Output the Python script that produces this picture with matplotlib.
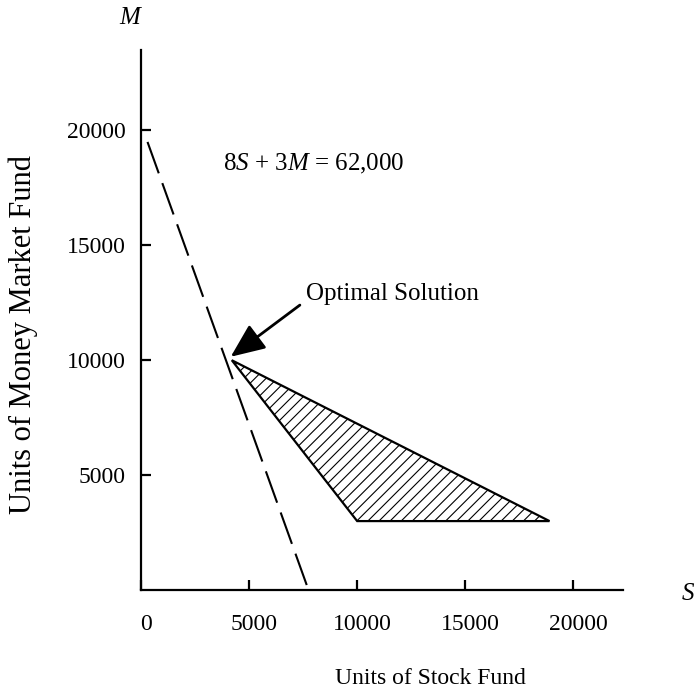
import matplotlib
matplotlib.use('Agg')
import matplotlib.pyplot as plt
from matplotlib.transforms import ScaledTranslation

plt.rcParams['font.family'] = 'Liberation Serif'
plt.rcParams['mathtext.fontset'] = 'custom'
plt.rcParams['mathtext.rm'] = 'Liberation Serif'
plt.rcParams['mathtext.it'] = 'Liberation Serif:italic'
plt.rcParams['hatch.linewidth'] = 0.8

# Feasible region corners (S, M)
region_s = [4200, 10000, 18900]
region_m = [10000, 3000, 3000]

# Objective line 8S + 3M = 62,000
obj_s = [300, 7750]
obj_m = [19500, 0]

# Optimal point (arrow tip) and arrow tail
opt_s, opt_m = 4150, 10150
tail_s, tail_m = 7350, 12400

x_ticks = [0, 5000, 10000, 15000, 20000]
y_ticks = [5000, 10000, 15000, 20000]

fig = plt.figure(figsize=(6.95, 6.90), dpi=100)
ax = fig.add_axes([0.2029, 0.1449, 0.6935, 0.7826])

# Feasible region with hatching
ax.fill(region_s, region_m, facecolor='white', edgecolor='black', hatch='///', linewidth=1.6)

# Objective function line
ax.plot(obj_s, obj_m, color='black', linestyle=(0, (16, 5)), linewidth=1.5)

# Axes look
ax.set_xlim(0, 22300)
ax.set_ylim(0, 23500)
ax.spines['top'].set_visible(False)
ax.spines['right'].set_visible(False)
ax.spines['left'].set_linewidth(1.6)
ax.spines['bottom'].set_linewidth(1.6)

ax.set_xticks(x_ticks)
ax.set_yticks(y_ticks)
ax.set_xticklabels([str(v) for v in x_ticks])
ax.set_yticklabels([str(v) for v in y_ticks])
ax.tick_params(axis='both', direction='in', length=7, width=1.6, labelsize=17)
ax.tick_params(axis='x', pad=17)
ax.tick_params(axis='y', pad=11)
ax.xaxis.set_ticks_position('bottom')
ax.yaxis.set_ticks_position('left')

# tick labels in the reference sit a bit right of the tick marks
for lab in ax.get_xticklabels():
    lab.set_transform(lab.get_transform() + ScaledTranslation(5 / 100, 0, fig.dpi_scale_trans))

# Equation label
ax.text(3790, 18530, r'8$\mathit{S}$ + 3$\mathit{M}$ = 62,000', fontsize=18, ha='left', va='center')

# Optimal solution arrow
ax.annotate('', xy=(opt_s, opt_m), xytext=(tail_s, tail_m),
            arrowprops=dict(arrowstyle='-|>,head_length=1.05,head_width=0.45',
                            mutation_scale=20, color='black', linewidth=2,
                            shrinkA=0, shrinkB=0))
ax.text(7630, 12900, 'Optimal Solution', fontsize=18, ha='left', va='center')

# Axis letters and labels
fig.text(130 / 695, 1 - 18 / 690, 'M', fontsize=18, style='italic', ha='center', va='center')
fig.text(688 / 695, 1 - 594 / 690, 'S', fontsize=18, style='italic', ha='center', va='center')
fig.text(23 / 695, 1 - 335 / 690, 'Units of Money Market Fund', fontsize=22,
         rotation=90, ha='center', va='center')
fig.text(430 / 695, 1 - 678 / 690, 'Units of Stock Fund', fontsize=17, ha='center', va='center')

fig.savefig('out.png', dpi=100)
